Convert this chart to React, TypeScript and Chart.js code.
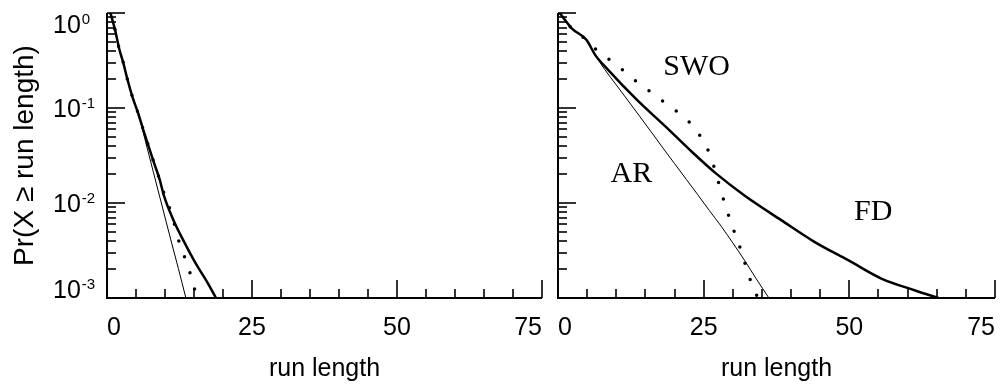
import React, { useEffect, useRef } from 'react';
import { Chart, registerables } from 'chart.js';

Chart.register(...registerables);

// ---------- axis data ----------
const xMajorTicks = [0, 25, 50, 75];
const xMinorStep = 5;
const yDecades = [1, 0.1, 0.01, 0.001];
const yExponents = ['0', '-1', '-2', '-3'];
const xTitle = 'run length';
const yTitle = 'Pr(X \u2265 run length)';

// ---------- left panel ----------
const leftFDx = [0.6, 1.4, 2.1, 2.8, 3.55, 4.4, 5.4, 6.25, 7.2, 8.15, 9.1, 9.8, 11.5, 13.7, 15.5, 17.2, 18.8];
const leftFDy = [1, 0.66, 0.42, 0.3, 0.197, 0.13, 0.087, 0.059, 0.039, 0.026, 0.0175, 0.012, 0.0065, 0.0035, 0.0022, 0.0015, 0.001];

const leftSWOx = [0.6, 1.4, 2.1, 2.8, 3.55, 4.4, 5.4, 6.25, 7.2, 8.15, 9.1, 10, 11.1, 12.6, 13.7, 14.6, 15.5];
const leftSWOy = [1, 0.66, 0.42, 0.3, 0.197, 0.13, 0.087, 0.059, 0.039, 0.026, 0.0175, 0.0117, 0.0078, 0.0036, 0.0024, 0.0016, 0.001];

const leftARx = [0.6, 1.4, 2.1, 2.8, 3.55, 4.4, 5.4, 6.5, 8, 9.5, 11, 12.3, 13.6];
const leftARy = [1, 0.66, 0.42, 0.3, 0.197, 0.13, 0.087, 0.048, 0.0211, 0.0093, 0.0041, 0.00205, 0.001];

// ---------- right panel ----------
const rightFDx = [0.3, 2.35, 4.9, 6.4, 8.4, 13.6, 18.2, 23.1, 27.1, 32, 38.3, 44, 49.8, 55.5, 61.3, 65.3];
const rightFDy = [1, 0.69, 0.52, 0.36, 0.26, 0.121, 0.066, 0.034, 0.0205, 0.012, 0.0066, 0.0039, 0.0025, 0.0016, 0.0012, 0.001];

const rightSWOx = [0.3, 2.35, 4.9, 6.95, 9.25, 11.7, 14, 16.4, 18.8, 21.2, 23.3, 24.9, 26.2, 27.1, 27.9, 28.8, 29.7, 30.7, 31.7, 32.5, 33.5, 34.3];
const rightSWOy = [1, 0.69, 0.52, 0.39, 0.31, 0.235, 0.179, 0.14, 0.108, 0.084, 0.063, 0.045, 0.031, 0.0205, 0.0138, 0.0091, 0.0062, 0.0042, 0.0028, 0.0019, 0.0013, 0.001];

const rightARx = [0.3, 2.35, 4.9, 6.4, 8, 10, 12, 14, 16, 18, 20, 22, 24, 26, 28, 30, 32, 34, 36.2];
const rightARy = [1, 0.69, 0.52, 0.36, 0.255, 0.175, 0.12, 0.082, 0.056, 0.038, 0.026, 0.0178, 0.0122, 0.0083, 0.0057, 0.0038, 0.0025, 0.0016, 0.001];

// curve name annotations on the right panel
const curveNames = ['SWO', 'AR', 'FD'];
const curveNameX = [23.8, 12.6, 54.1];
const curveNameY = [0.27, 0.0202, 0.00803];

const SANS = '"Liberation Sans", Arial, Helvetica, sans-serif';
const SERIF = '"Liberation Serif", "Times New Roman", serif';

type Series = { x: number[]; y: number[]; kind: 'thick' | 'thin' | 'dots' };

function makeAxesPlugin(showYLabels: boolean, showNames: boolean) {
  return {
    id: 'axesTicks',
    afterDatasetsDraw(chart: any) {
      const { ctx, chartArea } = chart;
      const { left, right, top, bottom } = chartArea;
      const xs = chart.scales.x;
      const ys = chart.scales.y;
      ctx.save();
      ctx.strokeStyle = '#000';
      ctx.fillStyle = '#000';
      ctx.lineCap = 'butt';
      // axis lines
      ctx.lineWidth = 2;
      ctx.beginPath();
      ctx.moveTo(left, top);
      ctx.lineTo(left, bottom);
      ctx.lineTo(right, bottom);
      ctx.stroke();
      // x ticks (inward)
      ctx.lineWidth = 1.6;
      for (let v = xs.min; v <= xs.max + 1e-9; v += xMinorStep) {
        const px = Math.round(xs.getPixelForValue(v));
        const len = xMajorTicks.includes(v) ? 18 : 9;
        ctx.beginPath();
        ctx.moveTo(px, bottom);
        ctx.lineTo(px, bottom - len);
        ctx.stroke();
      }
      // y ticks (inward)
      for (let k = -3; k <= 0; k++) {
        for (let m = 1; m <= 9; m++) {
          const v = m * Math.pow(10, k);
          if (v > 1.0000001) break;
          const py = Math.round(ys.getPixelForValue(v));
          const len = m === 1 ? 18 : 9;
          ctx.beginPath();
          ctx.moveTo(left, py);
          ctx.lineTo(left + len, py);
          ctx.stroke();
        }
      }
      // y tick labels with superscripts
      if (showYLabels) {
        ctx.textAlign = 'left';
        ctx.textBaseline = 'alphabetic';
        const cap = 18;
        const lx = left - 54;
        yDecades.forEach((v, i) => {
          const py = ys.getPixelForValue(v);
          let base: number;
          if (i === 0) base = py + 2 + cap;
          else if (i === yDecades.length - 1) base = py;
          else base = py + cap / 2;
          ctx.font = `25px ${SANS}`;
          ctx.fillText('10', lx, base);
          const w = ctx.measureText('10').width;
          ctx.font = `15px ${SANS}`;
          ctx.fillText(yExponents[i], lx + w + 1, base - 9.5);
        });
      }
      if (showNames) {
        ctx.font = `30px ${SERIF}`;
        ctx.textAlign = 'center';
        ctx.textBaseline = 'middle';
        curveNames.forEach((n, i) => {
          ctx.fillText(n, xs.getPixelForValue(curveNameX[i]), ys.getPixelForValue(curveNameY[i]));
        });
      }
      ctx.restore();
    },
  };
}

function buildChart(canvas: HTMLCanvasElement, series: Series[], opts: { yWidth: number; padRight: number; showY: boolean; showNames: boolean }) {
  return new Chart(canvas, {
    type: 'line',
    data: {
      datasets: series.map((s) => ({
        data: s.x.map((xv, i) => ({ x: xv, y: s.y[i] })),
        borderColor: '#000',
        backgroundColor: '#000',
        borderWidth: s.kind === 'thick' ? 2.5 : s.kind === 'thin' ? 1 : 3.5,
        borderDash: s.kind === 'dots' ? [0, 17] : [],
        borderCapStyle: s.kind === 'dots' ? 'round' : 'butt',
        pointRadius: 0,
        fill: false,
        tension: 0,
        cubicInterpolationMode: 'monotone',
      })),
    } as any,
    options: {
      responsive: false,
      animation: false,
      devicePixelRatio: 1,
      layout: { padding: { left: 0, top: 13, right: opts.padRight, bottom: 0 } },
      plugins: { legend: { display: false }, tooltip: { enabled: false } },
      scales: {
        x: {
          type: 'linear',
          min: 0,
          max: 75,
          afterBuildTicks: (s: any) => {
            s.ticks = xMajorTicks.map((v) => ({ value: v }));
          },
          afterFit: (s: any) => {
            s.height = 87;
            s.paddingLeft = 0;
            s.paddingRight = 0;
          },
          ticks: { align: 'inner', font: { family: SANS, size: 25 }, color: '#000', padding: 15, maxRotation: 0, autoSkip: false },
          grid: { display: false, drawTicks: false },
          border: { display: false },
          title: { display: true, text: xTitle, font: { family: SANS, size: 25 }, color: '#000', padding: { top: 0, bottom: 1 } },
        },
        y: {
          type: 'logarithmic',
          min: 0.001,
          max: 1,
          ticks: { display: false },
          grid: { display: false, drawTicks: false },
          border: { display: false },
          afterFit: (s: any) => {
            s.width = opts.yWidth;
            s.paddingTop = 0;
            s.paddingBottom = 0;
          },
          title: { display: opts.showY, text: yTitle, font: { family: SANS, size: 28 }, color: '#000', padding: { top: 8, bottom: 0 } },
        },
      },
    } as any,
    plugins: [makeAxesPlugin(opts.showY, opts.showNames)],
  });
}

export default function App() {
  const leftRef = useRef<HTMLCanvasElement>(null);
  const rightRef = useRef<HTMLCanvasElement>(null);

  useEffect(() => {
    document.body.style.margin = '0';
    const c1 = buildChart(
      leftRef.current!,
      [
        { x: leftFDx, y: leftFDy, kind: 'thick' },
        { x: leftARx, y: leftARy, kind: 'thin' },
        { x: leftSWOx, y: leftSWOy, kind: 'dots' },
      ],
      { yWidth: 107, padRight: 8, showY: true, showNames: false }
    );
    const c2 = buildChart(
      rightRef.current!,
      [
        { x: rightFDx, y: rightFDy, kind: 'thick' },
        { x: rightARx, y: rightARy, kind: 'thin' },
        { x: rightSWOx, y: rightSWOy, kind: 'dots' },
      ],
      { yWidth: 8, padRight: 5, showY: false, showNames: true }
    );
    return () => {
      c1.destroy();
      c2.destroy();
    };
  }, []);

  return (
    <div style={{ position: 'relative', width: 1000, height: 385, background: '#fff' }}>
      <canvas ref={leftRef} width={550} height={385} style={{ position: 'absolute', left: 0, top: 0 }} />
      <canvas ref={rightRef} width={450} height={385} style={{ position: 'absolute', left: 550, top: 0 }} />
    </div>
  );
}
